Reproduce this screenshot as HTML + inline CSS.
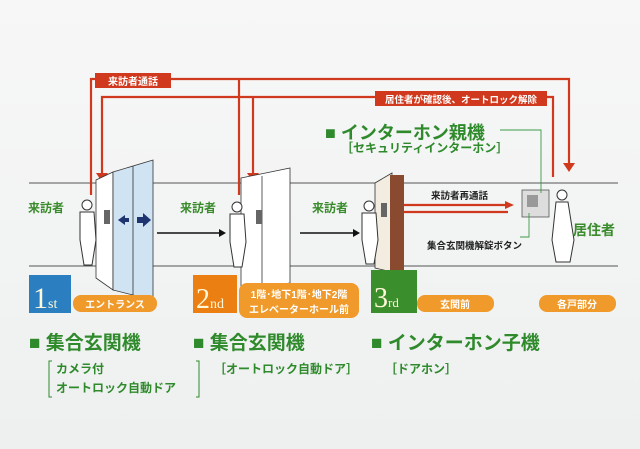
<!DOCTYPE html>
<html><head><meta charset="utf-8"><style>
html,body{margin:0;padding:0;background:#f3f4f4;}
svg{display:block;font-family:"Liberation Sans","Noto Sans CJK JP",sans-serif;}
</style></head><body>
<svg width="640" height="449" viewBox="0 0 640 449" xmlns="http://www.w3.org/2000/svg">
<defs>
<linearGradient id="bg" x1="0" y1="0" x2="0" y2="1"><stop offset="0" stop-color="#f7f7f7"/><stop offset="1" stop-color="#eef0f0"/></linearGradient>
</defs>
<rect width="640" height="449" fill="url(#bg)"/>
<line x1="29" y1="183" x2="618" y2="183" stroke="#555" stroke-width="1"/>
<line x1="29" y1="266" x2="618" y2="266" stroke="#555" stroke-width="1"/>

<g stroke="#d0391d" stroke-width="2.2" fill="none">
<polyline points="91,195 91,79 569,79 569,165"/>
<line x1="239" y1="79" x2="239" y2="195"/>
<polyline points="102,175 102,97 553,97 553,177"/>
<line x1="253" y1="97" x2="253" y2="175"/>
<line x1="388" y1="205" x2="508" y2="205"/>
<line x1="388" y1="212" x2="508" y2="212"/>
</g>
<g fill="#d0391d">
<polygon points="96,173 108,173 102,182"/>
<polygon points="247,173 259,173 253,182"/>
<polygon points="563,163 575,163 569,172"/>
<polygon points="505,201 514,205 505,209"/>
</g>
<rect x="95" y="73" width="76" height="15" fill="#d0391d"/>
<text x="133" y="85" font-size="10" fill="#fff" text-anchor="middle" font-weight="bold">来訪者通話</text>
<rect x="375" y="91" width="172" height="15" fill="#d0391d"/>
<text x="461" y="103" font-size="9.5" fill="#fff" text-anchor="middle" font-weight="bold">居住者が確認後、オートロック解除</text>

<polygon points="96,180 113,172 113,290 96,278" fill="#fff" stroke="#333" stroke-width="0.8"/>
<polygon points="113,172 153,160 153,300 113,290" fill="#cfe3f3" stroke="#333" stroke-width="0.8"/>
<line x1="133" y1="166" x2="133" y2="295" stroke="#333" stroke-width="0.8"/>
<polygon points="118,220 125,215 125,225" fill="#1e3570"/>
<rect x="125" y="218" width="4" height="4" fill="#1e3570"/>
<rect x="137" y="217" width="6" height="6" fill="#1e3570"/>
<polygon points="143,213 151,220 143,227" fill="#1e3570"/>
<polygon points="241,178 290,168 290,283 241,290" fill="#fff" stroke="#333" stroke-width="0.8"/>
<line x1="262" y1="176" x2="262" y2="288" stroke="#333" stroke-width="0.8"/>
<polygon points="375,183 392,173 392,272 375,268" fill="#f3ece0" stroke="#333" stroke-width="0.8"/>
<rect x="390" y="175" width="14" height="97" fill="#8a4a30"/>

<g stroke="#333" stroke-width="1" fill="#fff">
<circle cx="87" cy="205" r="5"/><path d="M80,212 L94,212 L96,240 L92,265 L84,265 L80,240 Z"/>
<circle cx="237" cy="207" r="5"/><path d="M230,214 L244,214 L246,242 L242,267 L234,267 L230,242 Z"/>
<circle cx="369" cy="206" r="5"/><path d="M362,213 L376,213 L378,240 L374,264 L366,264 L362,240 Z"/>
<circle cx="562" cy="195" r="5"/><path d="M556,202 L568,202 L574,240 L570,262 L556,262 L552,240 Z"/>
</g>
<rect x="104" y="210" width="6" height="14" fill="#666"/>
<rect x="256" y="210" width="6" height="14" fill="#666"/>
<rect x="381" y="203" width="6" height="14" fill="#666"/>
<rect x="522" y="190" width="27" height="27" fill="#ddd" stroke="#555" stroke-width="0.8"/>
<rect x="527" y="195" width="11" height="12" fill="#999"/>

<g stroke="#111" stroke-width="1.6"><line x1="157" y1="233" x2="220" y2="233"/><line x1="300" y1="233" x2="354" y2="233"/></g>
<polygon points="219,229 226,233 219,237" fill="#111"/>
<polygon points="353,229 360,233 353,237" fill="#111"/>

<g stroke="#3c9a46" stroke-width="0.9" fill="none">
<polyline points="500,130 541,130 541,193"/>
<polyline points="529,213 529,237 520,237"/>
</g>

<g fill="#3a8c2c" font-size="12" font-weight="bold">
<text x="28" y="212">来訪者</text>
<text x="180" y="212">来訪者</text>
<text x="312" y="212">来訪者</text>
<text x="573" y="235" font-size="14">居住者</text>
</g>
<text x="431" y="199" font-size="9.5" fill="#222" font-weight="bold">来訪者再通話</text>
<text x="427" y="249" font-size="9.5" fill="#222" font-weight="bold">集合玄関機解錠ボタン</text>

<text x="325" y="139" font-size="18" font-weight="bold" fill="#2f8a2c">■ インターホン親機</text>
<text x="341" y="152" font-size="12" font-weight="bold" fill="#2f8a2c">［セキュリティインターホン］</text>

<rect x="29" y="275" width="42" height="38" fill="#2b7fc0"/>
<text x="33" y="308" font-size="30" fill="#fff8d8" font-family="Liberation Serif,serif">1<tspan font-size="14">st</tspan></text>
<rect x="73" y="295" width="84" height="17" rx="8" fill="#ef9a2a"/>
<text x="115" y="308" font-size="10" fill="#fff" text-anchor="middle" font-weight="bold">エントランス</text>

<rect x="193" y="275" width="44" height="38" fill="#ec7f12"/>
<text x="196" y="308" font-size="28" fill="#fff8d8" font-family="Liberation Serif,serif">2<tspan font-size="14">nd</tspan></text>
<rect x="239" y="283" width="120" height="35" rx="8" fill="#ef9a2a"/>
<text x="299" y="298" font-size="10" fill="#fff" text-anchor="middle" font-weight="bold">1階･地下1階･地下2階</text>
<text x="299" y="313" font-size="10" fill="#fff" text-anchor="middle" font-weight="bold">エレベーターホール前</text>

<rect x="371" y="270" width="46" height="43" fill="#3b8e2c"/>
<text x="374" y="307" font-size="28" fill="#fff8d8" font-family="Liberation Serif,serif">3<tspan font-size="13">rd</tspan></text>
<rect x="417" y="295" width="77" height="17" rx="8" fill="#ef9a2a"/>
<text x="455" y="308" font-size="10" fill="#fff" text-anchor="middle" font-weight="bold">玄関前</text>
<rect x="539" y="295" width="77" height="17" rx="8" fill="#ef9a2a"/>
<text x="577" y="308" font-size="10" fill="#fff" text-anchor="middle" font-weight="bold">各戸部分</text>

<g fill="#2f8a2c" font-size="19" font-weight="bold">
<text x="29" y="349">■ 集合玄関機</text>
<text x="193" y="349">■ 集合玄関機</text>
<text x="371" y="349">■ インターホン子機</text>
</g>
<g fill="#2f8a2c" font-size="12" font-weight="bold">
<polyline points="52,361 49,361 49,397 52,397" stroke="#2f8a2c" fill="none" stroke-width="1"/>
<polyline points="196,361 199,361 199,397 196,397" stroke="#2f8a2c" fill="none" stroke-width="1"/>
<text x="56" y="373">カメラ付</text>
<text x="56" y="392">オートロック自動ドア</text>
<text x="214" y="373">［オートロック自動ドア］</text>
<text x="385" y="373">［ドアホン］</text>
</g>
</svg>
</body></html>
